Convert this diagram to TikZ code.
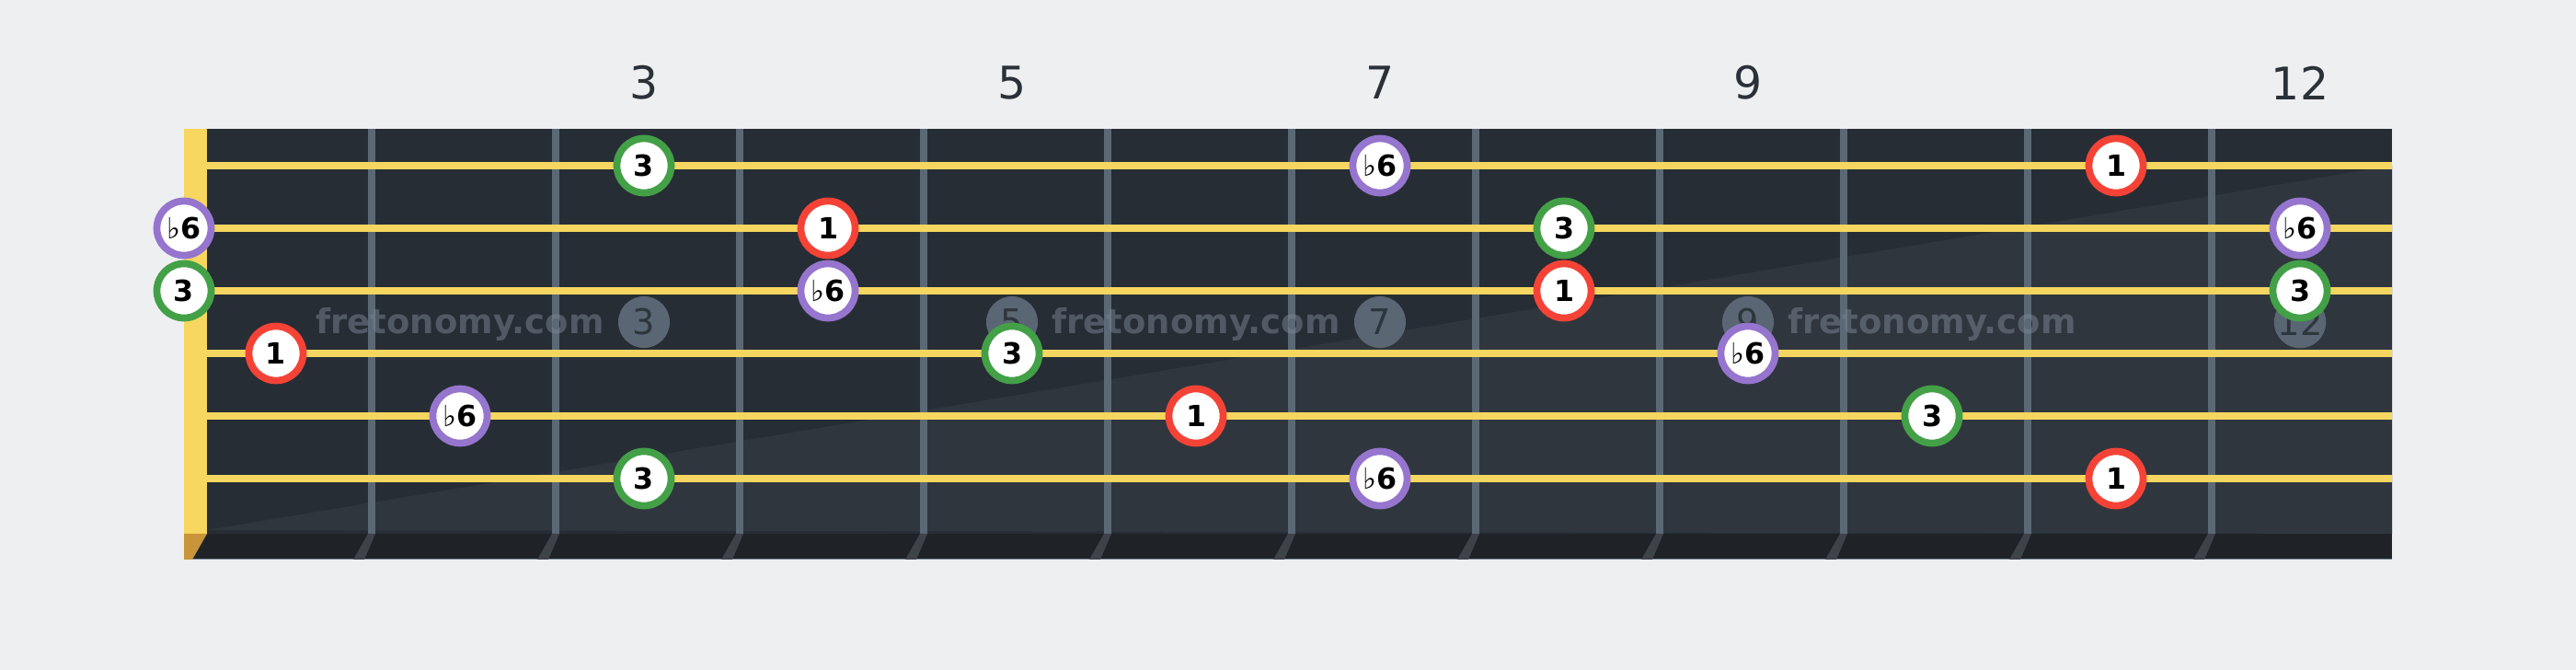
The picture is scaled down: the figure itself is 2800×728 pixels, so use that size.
\documentclass[tikz,border=0pt]{standalone}
\usepackage{fontspec}
\setmainfont{DejaVu Sans}
\usepackage{tikz}
\usetikzlibrary{positioning}

\definecolor{bgcol}{HTML}{EEEFF1}
\definecolor{boardtop}{HTML}{272D35}
\definecolor{boardlow}{HTML}{30363E}
\definecolor{fretcol}{HTML}{5B6875}
\definecolor{stripcol}{HTML}{1F2327}
\definecolor{fretshade}{HTML}{3E4349}
\definecolor{nutcol}{HTML}{F7D760}
\definecolor{nutbrown}{HTML}{C9943A}
\definecolor{stringcol}{HTML}{F5D660}
\definecolor{inlaycol}{HTML}{5A6673}
\definecolor{inlaytext}{HTML}{2E353D}
\definecolor{markcol}{HTML}{7B8794}
\definecolor{labelcol}{HTML}{2B3138}
\definecolor{rootred}{HTML}{F44336}
\definecolor{thirdgreen}{HTML}{43A047}
\definecolor{sixthpurple}{HTML}{9575CD}

\newcommand{\fl}{{\mdseries\char"266D}}

\tikzset{
  note/.style={circle, fill=white, line width=0.077cm, minimum size=0.59cm,
    inner sep=0pt, font=\fontsize{9}{9}\selectfont\bfseries},
  root/.style={note, draw=rootred},
  third/.style={note, draw=thirdgreen},
  sixth/.style={note, draw=sixthpurple},
  fretnum/.style={text=labelcol, font=\fontsize{13.9}{14}\selectfont},
  inlay/.style={circle, fill=inlaycol, minimum size=0.56cm, inner sep=0pt,
    text=inlaytext, font=\fontsize{10.9}{11}\selectfont},
  watermark/.style={text=markcol, opacity=0.5, font=\fontsize{10.5}{11}\selectfont\bfseries}
}

\begin{document}
\begin{tikzpicture}[x=0.01cm, y=-0.01cm]
\useasboundingbox (0,0) rectangle (2800,728);
\fill[bgcol] (0,0) rectangle (2800,728);
% board
\fill[boardtop] (225,140) rectangle (2600,580);
\fill[boardlow] (225,576) -- (2600,180) -- (2600,580) -- cycle;
\foreach \x in {400,600,...,2400}
  \fill[fretcol] (\x,140) rectangle (\x+8,580);
\fill[stripcol] (200,580) rectangle (2600,608);
\draw[markcol, line width=0.01cm] (209,608) -- (2600,608);
\foreach \x in {400,600,...,2400}
  \fill[fretshade] (\x,580) -- (\x+8,580) -- (\x-4,608) -- (\x-16,608) -- cycle;
% nut
\fill[nutcol] (200,140) rectangle (225,580);
\fill[nutbrown] (200,580) -- (225,580) -- (209,608) -- (200,608) -- cycle;
% inlays and watermark
\node[inlay] (in3) at (700,350) {3};
\node[inlay] (in5) at (1100,350) {5};
\node[inlay] (in7) at (1500,350) {7};
\node[inlay] (in9) at (1900,350) {9};
\node[inlay] (in12) at (2500,350) {12};
\node[watermark] (wm1) at (500,352) {fretonomy.com};
\node[watermark] (wm2) at (1300,352) {fretonomy.com};
\node[watermark] (wm3) at (2100,352) {fretonomy.com};
% strings
\foreach \y in {180,248,...,520}
  \draw[stringcol, line width=0.08cm] (225,\y) -- (2600,\y);
% fret numbers
\node[fretnum] (f3) at (700,90) {3};
\node[fretnum] (f5) at (1100,90) {5};
\node[fretnum] (f7) at (1500,90) {7};
\node[fretnum] (f9) at (1900,90) {9};
\node[fretnum] (f12) at (2500,90) {12};
% notes
\node[third] (s1f3) at (700,180) {3};
\node[sixth] (s1f7) at (1500,180) {\fl6};
\node[root] (s1f11) at (2300,180) {1};
\node[sixth] (s2f0) at (200,248) {\fl6};
\node[root] (s2f4) at (900,248) {1};
\node[third] (s2f8) at (1700,248) {3};
\node[sixth] (s2f12) at (2500,248) {\fl6};
\node[third] (s3f0) at (200,316) {3};
\node[sixth] (s3f4) at (900,316) {\fl6};
\node[root] (s3f8) at (1700,316) {1};
\node[third] (s3f12) at (2500,316) {3};
\node[root] (s4f1) at (300,384) {1};
\node[third] (s4f5) at (1100,384) {3};
\node[sixth] (s4f9) at (1900,384) {\fl6};
\node[sixth] (s5f2) at (500,452) {\fl6};
\node[root] (s5f6) at (1300,452) {1};
\node[third] (s5f10) at (2100,452) {3};
\node[third] (s6f3) at (700,520) {3};
\node[sixth] (s6f7) at (1500,520) {\fl6};
\node[root] (s6f11) at (2300,520) {1};
\end{tikzpicture}
\end{document}
